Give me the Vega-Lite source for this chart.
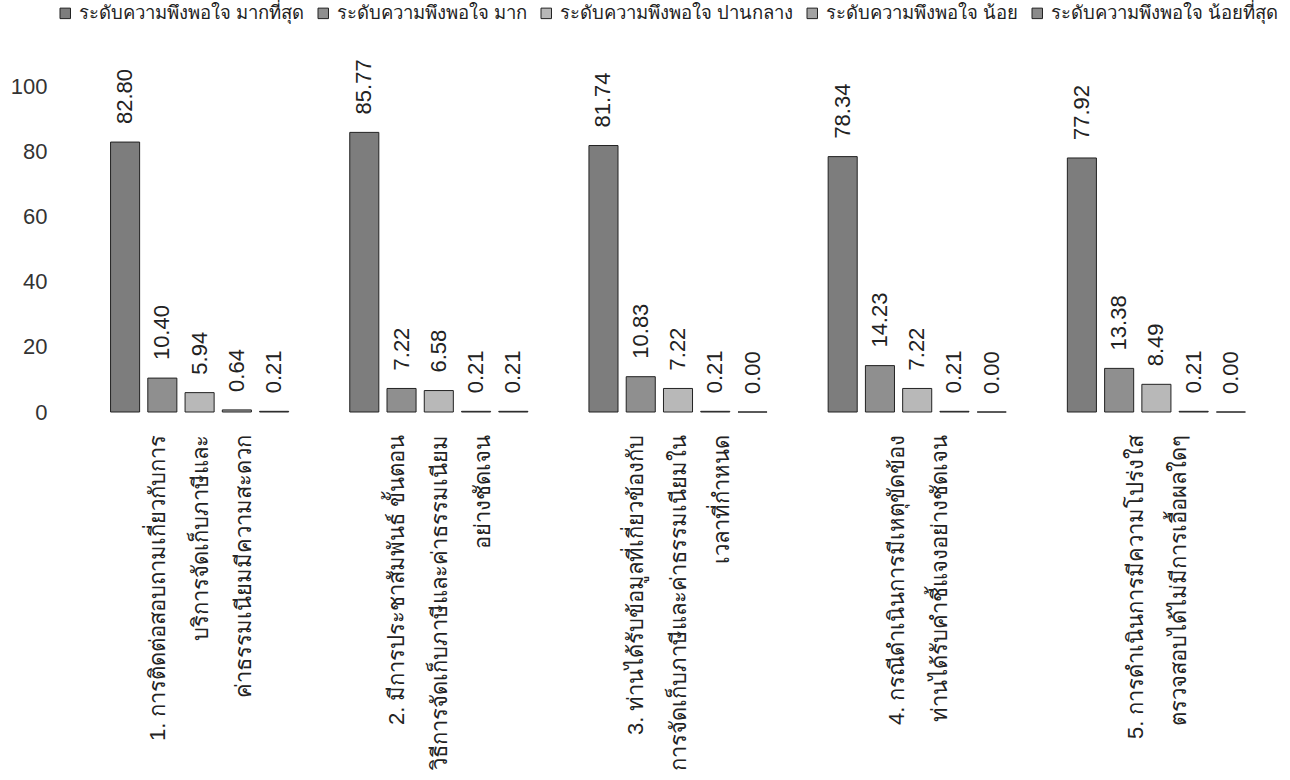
{
  "$schema": "https://vega.github.io/schema/vega-lite/v6.json",
  "autosize": {"type": "none"},
  "width": 1196,
  "height": 326,
  "padding": {"left": 80, "top": 86, "right": 14, "bottom": 368},
  "background": "white",
  "config": {"view": {"stroke": null}, "font": "Liberation Sans"},
  "data": {
    "values": [
      {"cat": "1. การติดต่อสอบถามเกี่ยวกับการ|บริการจัดเก็บภาษีและ|ค่าธรรมเนียมมีความสะดวก", "level": "ระดับความพึงพอใจ มากที่สุด", "value": 82.80},
      {"cat": "1. การติดต่อสอบถามเกี่ยวกับการ|บริการจัดเก็บภาษีและ|ค่าธรรมเนียมมีความสะดวก", "level": "ระดับความพึงพอใจ มาก", "value": 10.40},
      {"cat": "1. การติดต่อสอบถามเกี่ยวกับการ|บริการจัดเก็บภาษีและ|ค่าธรรมเนียมมีความสะดวก", "level": "ระดับความพึงพอใจ ปานกลาง", "value": 5.94},
      {"cat": "1. การติดต่อสอบถามเกี่ยวกับการ|บริการจัดเก็บภาษีและ|ค่าธรรมเนียมมีความสะดวก", "level": "ระดับความพึงพอใจ น้อย", "value": 0.64},
      {"cat": "1. การติดต่อสอบถามเกี่ยวกับการ|บริการจัดเก็บภาษีและ|ค่าธรรมเนียมมีความสะดวก", "level": "ระดับความพึงพอใจ น้อยที่สุด", "value": 0.21},
      {"cat": "2. มีการประชาสัมพันธ์  ขั้นตอน|วิธีการจัดเก็บภาษีและค่าธรรมเนียม|อย่างชัดเจน", "level": "ระดับความพึงพอใจ มากที่สุด", "value": 85.77},
      {"cat": "2. มีการประชาสัมพันธ์  ขั้นตอน|วิธีการจัดเก็บภาษีและค่าธรรมเนียม|อย่างชัดเจน", "level": "ระดับความพึงพอใจ มาก", "value": 7.22},
      {"cat": "2. มีการประชาสัมพันธ์  ขั้นตอน|วิธีการจัดเก็บภาษีและค่าธรรมเนียม|อย่างชัดเจน", "level": "ระดับความพึงพอใจ ปานกลาง", "value": 6.58},
      {"cat": "2. มีการประชาสัมพันธ์  ขั้นตอน|วิธีการจัดเก็บภาษีและค่าธรรมเนียม|อย่างชัดเจน", "level": "ระดับความพึงพอใจ น้อย", "value": 0.21},
      {"cat": "2. มีการประชาสัมพันธ์  ขั้นตอน|วิธีการจัดเก็บภาษีและค่าธรรมเนียม|อย่างชัดเจน", "level": "ระดับความพึงพอใจ น้อยที่สุด", "value": 0.21},
      {"cat": "3. ท่านได้รับข้อมูลที่เกี่ยวข้องกับ|การจัดเก็บภาษีและค่าธรรมเนียมใน|เวลาที่กำหนด", "level": "ระดับความพึงพอใจ มากที่สุด", "value": 81.74},
      {"cat": "3. ท่านได้รับข้อมูลที่เกี่ยวข้องกับ|การจัดเก็บภาษีและค่าธรรมเนียมใน|เวลาที่กำหนด", "level": "ระดับความพึงพอใจ มาก", "value": 10.83},
      {"cat": "3. ท่านได้รับข้อมูลที่เกี่ยวข้องกับ|การจัดเก็บภาษีและค่าธรรมเนียมใน|เวลาที่กำหนด", "level": "ระดับความพึงพอใจ ปานกลาง", "value": 7.22},
      {"cat": "3. ท่านได้รับข้อมูลที่เกี่ยวข้องกับ|การจัดเก็บภาษีและค่าธรรมเนียมใน|เวลาที่กำหนด", "level": "ระดับความพึงพอใจ น้อย", "value": 0.21},
      {"cat": "3. ท่านได้รับข้อมูลที่เกี่ยวข้องกับ|การจัดเก็บภาษีและค่าธรรมเนียมใน|เวลาที่กำหนด", "level": "ระดับความพึงพอใจ น้อยที่สุด", "value": 0.00},
      {"cat": "4. กรณีดำเนินการมีเหตุขัดข้อง|ท่านได้รับคำชี้แจงอย่างชัดเจน", "level": "ระดับความพึงพอใจ มากที่สุด", "value": 78.34},
      {"cat": "4. กรณีดำเนินการมีเหตุขัดข้อง|ท่านได้รับคำชี้แจงอย่างชัดเจน", "level": "ระดับความพึงพอใจ มาก", "value": 14.23},
      {"cat": "4. กรณีดำเนินการมีเหตุขัดข้อง|ท่านได้รับคำชี้แจงอย่างชัดเจน", "level": "ระดับความพึงพอใจ ปานกลาง", "value": 7.22},
      {"cat": "4. กรณีดำเนินการมีเหตุขัดข้อง|ท่านได้รับคำชี้แจงอย่างชัดเจน", "level": "ระดับความพึงพอใจ น้อย", "value": 0.21},
      {"cat": "4. กรณีดำเนินการมีเหตุขัดข้อง|ท่านได้รับคำชี้แจงอย่างชัดเจน", "level": "ระดับความพึงพอใจ น้อยที่สุด", "value": 0.00},
      {"cat": "5. การดำเนินการมีความโปร่งใส|ตรวจสอบได้ไม่มีการเอื้อผลใดๆ", "level": "ระดับความพึงพอใจ มากที่สุด", "value": 77.92},
      {"cat": "5. การดำเนินการมีความโปร่งใส|ตรวจสอบได้ไม่มีการเอื้อผลใดๆ", "level": "ระดับความพึงพอใจ มาก", "value": 13.38},
      {"cat": "5. การดำเนินการมีความโปร่งใส|ตรวจสอบได้ไม่มีการเอื้อผลใดๆ", "level": "ระดับความพึงพอใจ ปานกลาง", "value": 8.49},
      {"cat": "5. การดำเนินการมีความโปร่งใส|ตรวจสอบได้ไม่มีการเอื้อผลใดๆ", "level": "ระดับความพึงพอใจ น้อย", "value": 0.21},
      {"cat": "5. การดำเนินการมีความโปร่งใส|ตรวจสอบได้ไม่มีการเอื้อผลใดๆ", "level": "ระดับความพึงพอใจ น้อยที่สุด", "value": 0.00}
    ]
  },
  "encoding": {
    "x": {
      "field": "cat", "type": "nominal", "sort": null,
      "scale": {"paddingInner": 0, "paddingOuter": 0},
      "axis": {
        "title": null, "domain": false, "ticks": false, "labelAngle": 270,
        "labelExpr": "split(datum.label, '|')",
        "labelOffset": {"condition": {"test": "length(split(datum.label, '|')) == 3", "value": -42}, "value": -20},
        "labelFontSize": 22, "labelLineHeight": 43, "labelPadding": 22,
        "labelLimit": 0, "labelColor": "#222"
      }
    },
    "xOffset": {
      "field": "level", "type": "nominal",
      "sort": ["ระดับความพึงพอใจ มากที่สุด", "ระดับความพึงพอใจ มาก", "ระดับความพึงพอใจ ปานกลาง", "ระดับความพึงพอใจ น้อย", "ระดับความพึงพอใจ น้อยที่สุด"],
      "scale": {"paddingInner": 0.22, "paddingOuter": 0.82}
    },
    "y": {
      "field": "value", "type": "quantitative",
      "scale": {"domain": [0, 100]},
      "axis": {
        "title": null, "values": [0, 20, 40, 60, 80, 100], "domain": false, "ticks": false, "grid": false,
        "labelFontSize": 22, "labelColor": "#333", "labelPadding": 33
      }
    }
  },
  "layer": [
    {
      "mark": {"type": "bar", "stroke": "#222", "strokeWidth": 1},
      "encoding": {
        "color": {
          "field": "level", "type": "nominal",
          "scale": {
            "domain": ["ระดับความพึงพอใจ มากที่สุด", "ระดับความพึงพอใจ มาก", "ระดับความพึงพอใจ ปานกลาง", "ระดับความพึงพอใจ น้อย", "ระดับความพึงพอใจ น้อยที่สุด"],
            "range": ["#7d7d7d", "#8f8f8f", "#b8b8b8", "#a3a3a3", "#8a8a8a"]
          },
          "legend": {
            "orient": "none", "legendX": -24, "legendY": -82, "direction": "horizontal",
            "title": null, "symbolType": "square", "symbolSize": 110,
            "symbolStrokeColor": "#222", "symbolStrokeWidth": 1,
            "labelFontSize": 18.5, "labelColor": "#222", "columnPadding": 10, "labelOffset": 4, "labelLimit": 0
          }
        }
      }
    },
    {
      "mark": {"type": "text", "angle": 270, "align": "left", "baseline": "middle", "dx": 18, "fontSize": 22, "color": "#222"},
      "encoding": {
        "text": {"field": "value", "type": "quantitative", "format": ".2f"}
      }
    }
  ]
}
